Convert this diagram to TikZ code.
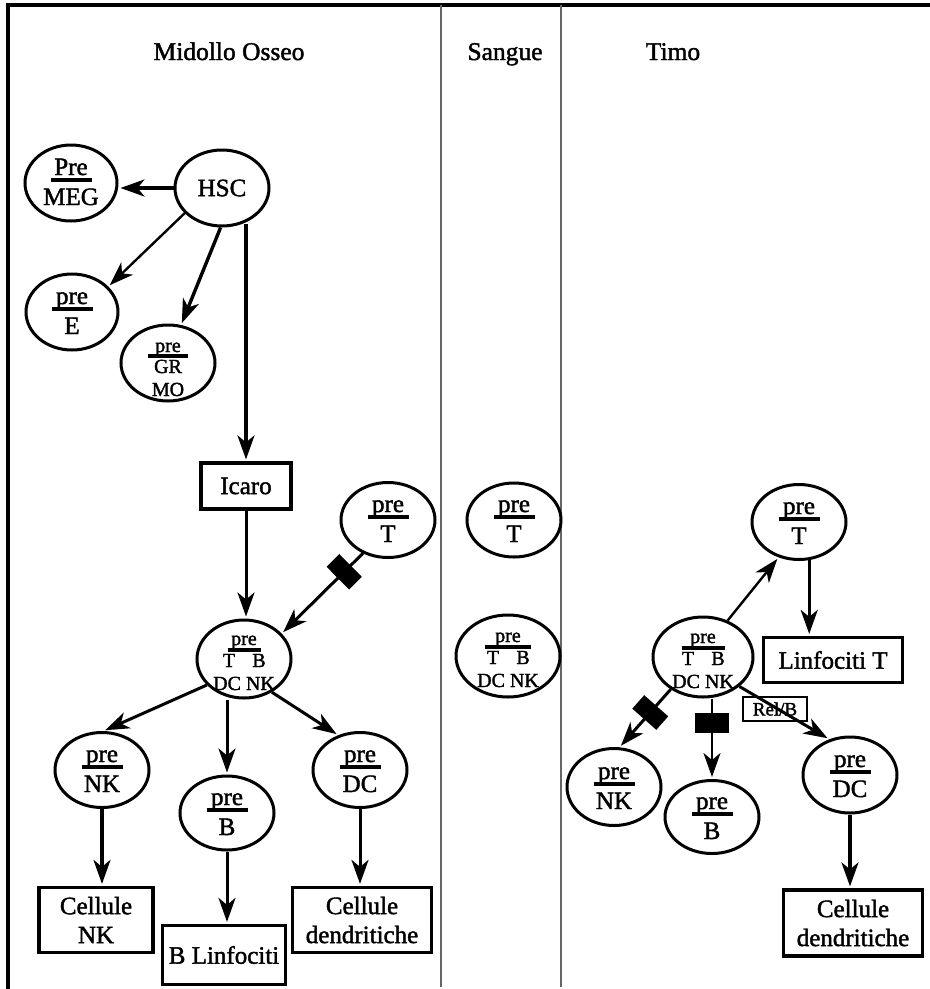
\documentclass[tikz,border=0pt]{standalone}
\usepackage{fontspec}
\setmainfont{Liberation Serif}[FakeBold=1.6]
\usetikzlibrary{arrows.meta,calc,shapes.geometric}
\newcommand\mytwoline[3]{%
  \node[lbl, anchor=base] (#1-t) at ($(#1.center)+(0,-8)$) {#2};
  \draw[bar] ($(#1.center)+(-20.5,-3)$) -- ($(#1.center)+(20.5,-3)$);
  \node[lbl, anchor=base] (#1-b) at ($(#1.center)+(0,22)$) {#3};
}
\newcommand\mytb[2]{%
  \node[sml, anchor=base] (#1-p) at ($(#1.center)+(0,-14)$) {pre};
  \draw[bar] ($(#1.center)+(-#2,-9)$) -- ($(#1.center)+(#2,-9)$);
  \node[sml, anchor=base] (#1-T) at ($(#1.center)+(-15,8)$) {T};
  \node[sml, anchor=base] (#1-B) at ($(#1.center)+(15,8)$) {B};
  \node[sml, anchor=base] (#1-d) at ($(#1.center)+(0,31)$) {DC NK};
}
\begin{document}
\begin{tikzpicture}[x=1pt,y=-1pt,
  cell/.style={ellipse, draw, line width=3pt, inner sep=0pt, minimum width=94pt, minimum height=76pt},
  box/.style={rectangle, draw, line width=3.2pt, inner sep=0pt, align=center, font=\fontsize{25}{29}\selectfont},
  lbl/.style={inner sep=0pt, font=\fontsize{25}{29}\selectfont},
  sml/.style={inner sep=0pt, font=\fontsize{20}{23}\selectfont},
  bar/.style={line width=3.6pt},
  arr/.style={-{Stealth[length=24pt,width=17pt,inset=7pt]}, line width=3pt, shorten >=2pt},
  arrthin/.style={line width=2.4pt},
  arrthick/.style={line width=3.4pt},
  blk/.style={fill=black, draw=none, minimum width=18pt, minimum height=32pt, inner sep=0pt, sloped},
  title/.style={anchor=base, inner sep=0pt, font=\fontsize{25.5}{29}\selectfont},
]
\useasboundingbox (0,0) rectangle (930,989);
% frame and columns
\draw[line width=3.8pt, line join=miter] (8,989) -- (8,5) -- (930,5);
\draw[black!60, line width=1.8pt] (441,5) -- (441,987);
\draw[black!60, line width=1.8pt] (561,5) -- (561,987);
% titles
\node[title] (tMO) at (229,60) {Midollo Osseo};
\node[title] (tSA) at (505,60) {Sangue};
\node[title] (tTI) at (673,60) {Timo};

% ---------- Midollo Osseo ----------
\node[cell, minimum width=92pt] (preMEG) at (71,183) {};
\mytwoline{preMEG}{Pre}{MEG}
\node[cell, font=\fontsize{25}{29}\selectfont] (HSC) at (222,188) {HSC};
\node[cell, minimum width=92pt] (preE) at (72,312) {};
\mytwoline{preE}{pre}{E}
\node[cell] (preGR) at (168,363) {};
\node[sml, anchor=base] (preGR-p) at ($(preGR.center)+(0,-11)$) {pre};
\draw[bar] ($(preGR.center)+(-20,-7)$) -- ($(preGR.center)+(20,-7)$);
\node[sml, anchor=base] (preGR-g) at ($(preGR.center)+(0,10)$) {GR};
\node[sml, anchor=base] (preGR-m) at ($(preGR.center)+(0,33)$) {MO};

\node[box, minimum width=90pt, minimum height=46pt] (Icaro) at (246,486) {Icaro};
\node[cell, minimum height=75pt] (preT1) at (388,520) {};
\mytwoline{preT1}{pre}{T}
\node[cell, minimum height=78pt] (pTB1) at (244,659) {};
\mytb{pTB1}{16.5}

\node[cell, minimum height=75pt] (preNK1) at (102,770) {};
\mytwoline{preNK1}{pre}{NK}
\node[cell, minimum height=74pt] (preB1) at (227,813) {};
\mytwoline{preB1}{pre}{B}
\node[cell, minimum height=75pt] (preDC1) at (360,770) {};
\mytwoline{preDC1}{pre}{DC}

\node[box, minimum width=114pt, minimum height=65pt] (CellNK) at (96,920) {Cellule\\NK};
\node[box, minimum width=123pt, minimum height=59pt] (BLinf) at (224,955) {B Linfociti};
\node[box, minimum width=139pt, minimum height=65pt] (CellDC1) at (362,920) {Cellule\\dendritiche};

% arrows MO
\draw[arr, arrthick] (HSC.west) -- (HSC.west -| preMEG.east);
\draw[arr, arrthin] (HSC.214) -- (preE.35);
\draw[arr, arrthick] (HSC.268) -- (preGR.71);
\draw[arr, arrthick] ([yshift=4pt]Icaro.north |- HSC.south) -- (Icaro.north);
\draw[arr] (Icaro.south) -- (Icaro.south |- pTB1.north);
\draw[arr] (preT1.233) -- node[blk, pos=0.23] (blkT1) {} (pTB1.34);
\draw[arr] (pTB1.215) -- (preNK1.88);
\draw[arr] (preB1.north |- pTB1.south) -- (preB1.north);
\draw[arr] (pTB1.-50) -- (preDC1.122);
\draw[arr, arrthick] (preNK1.south) -- (preNK1.south |- CellNK.north);
\draw[arr] (preB1.south) -- (preB1.south |- BLinf.north);
\draw[arr] (preDC1.south) -- (preDC1.south |- CellDC1.north);

% ---------- Sangue ----------
\node[cell, minimum height=74pt] (preT2) at (514,520) {};
\mytwoline{preT2}{pre}{T}
\node[cell, minimum width=104pt, minimum height=82pt] (pTB2) at (508,656) {};
\mytb{pTB2}{23}

% ---------- Timo ----------
\node[cell, minimum height=75pt] (preT3) at (799,522) {};
\mytwoline{preT3}{pre}{T}
\node[cell, minimum width=100pt, minimum height=80pt] (pTB3) at (703,657) {};
\mytb{pTB3}{21.5}
\node[box, minimum width=139pt, minimum height=45pt] (LinfT) at (833,660) {Linfociti T};
\node[cell, minimum height=77pt] (preNK3) at (614,787) {};
\mytwoline{preNK3}{pre}{NK}
\node[cell, minimum height=73pt] (preB3) at (712,817) {};
\mytwoline{preB3}{pre}{B}
\node[cell] (preDC3) at (850,775) {};
\mytwoline{preDC3}{pre}{DC}
\node[box, minimum width=139pt, minimum height=66pt] (CellDC3) at (853,923) {Cellule\\dendritiche};
\node[box, line width=2.4pt, minimum width=64pt, minimum height=24pt, font=\fontsize{19}{20}\selectfont] (RelB) at (775,709) {Rel/B};

% arrows Timo
\draw[arr, arrthin] (pTB3.56) -- (preT3.240);
\draw[arr, arrthick] (preT3.-75) -- (preT3.-75 |- LinfT.north);
\draw[arr] (pTB3.225) -- node[blk, pos=0.4] (blkNK3) {} (preNK3.82);
\draw[arr, arrthin] (preB3.north |- pTB3.south) -- node[blk, pos=0.31, minimum width=20pt, minimum height=34pt] (blkB3) {} (preB3.north);
\draw[arr] (pTB3.-39) -- (preDC3.120);
\draw[arr, arrthick] (preDC3.south) -- (preDC3.south |- CellDC3.north);
\end{tikzpicture}
\end{document}
